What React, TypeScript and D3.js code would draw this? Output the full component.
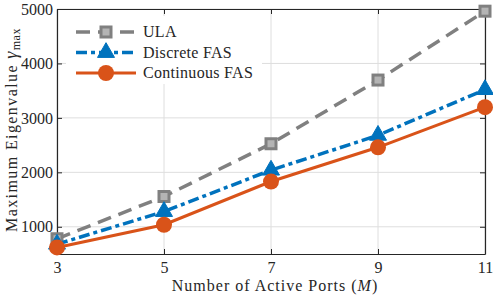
import React, { useEffect, useRef } from 'react';
import * as d3 from 'd3';

// number of active ports
var ports = [3, 5, 7, 9, 11];
var ulaValues = [780, 1556, 2525, 3695, 4960];
var discreteValues = [680, 1280, 2040, 2680, 3520];
var continuousValues = [620, 1037, 1831, 2460, 3196];
var yTicks = [1000, 2000, 3000, 4000, 5000];

var FONT = '"Liberation Serif", "DejaVu Serif", serif';

export default function App() {
    const ref = useRef<SVGSVGElement>(null);

    useEffect(() => {
        var width = 493, height = 297;
        var margin = { top: 9, right: 8, bottom: 43, left: 57 };
        var svg = d3.select(ref.current);
        svg.selectAll('*').remove();

        var x = d3.scaleLinear().domain([3, 11]).range([margin.left, width - margin.right]);
        var y = d3.scaleLinear().domain([500, 5000]).range([height - margin.bottom, margin.top]);
        var x0 = margin.left, x1 = width - margin.right;
        var y0 = height - margin.bottom, y1 = margin.top;

        // grid
        var grid = svg.append('g').attr('stroke', '#dedede').attr('stroke-width', 1);
        ports.forEach(function (p) {
            grid.append('line').attr('x1', x(p)).attr('x2', x(p)).attr('y1', y0).attr('y2', y1);
        });
        yTicks.forEach(function (t) {
            grid.append('line').attr('x1', x0).attr('x2', x1).attr('y1', y(t)).attr('y2', y(t));
        });

        // axes
        var ax = svg.append('g').attr('transform', 'translate(0,' + y0 + ')')
            .call(d3.axisBottom(x).tickValues(ports).tickSizeInner(-5).tickSizeOuter(0).tickPadding(8));
        var ay = svg.append('g').attr('transform', 'translate(' + x0 + ',0)')
            .call(d3.axisLeft(y).tickValues(yTicks).tickSizeInner(-5).tickSizeOuter(0).tickPadding(4).tickFormat(d3.format('d')));
        var at = svg.append('g').attr('transform', 'translate(0,' + y1 + ')')
            .call(d3.axisTop(x).tickValues(ports).tickSizeInner(-5).tickSizeOuter(0).tickFormat(function () { return ''; }));
        var ar = svg.append('g').attr('transform', 'translate(' + x1 + ',0)')
            .call(d3.axisRight(y).tickValues(yTicks).tickSizeInner(-5).tickSizeOuter(0).tickFormat(function () { return ''; }));
        [ax, ay, at, ar].forEach(function (a) {
            a.selectAll('path').attr('stroke', '#262626').attr('stroke-width', 1.2);
            a.selectAll('line').attr('stroke', '#262626');
            a.selectAll('text').attr('font-family', FONT).attr('font-size', 16).attr('fill', '#262626');
        });

        var series = [
            { name: 'ULA', values: ulaValues, color: '#808080', dash: '14,8', width: 3.5, marker: 'square' },
            { name: 'Discrete FAS', values: discreteValues, color: '#0072BD', dash: '11,4,4,4', width: 3.5, marker: 'triangle' },
            { name: 'Continuous FAS', values: continuousValues, color: '#D95319', dash: null, width: 3, marker: 'circle' }
        ];

        function drawMarker(g: any, type: string, cx: number, cy: number, color: string) {
            if (type === 'square') {
                g.append('rect').attr('x', cx - 5).attr('y', cy - 5).attr('width', 10).attr('height', 10)
                    .attr('fill', '#b4b4b4').attr('stroke', color).attr('stroke-width', 3);
            } else if (type === 'triangle') {
                var s = 17;
                var h = s * Math.sqrt(3) / 2;
                g.append('path')
                    .attr('d', 'M' + cx + ',' + (cy - h * 2 / 3) + 'L' + (cx + s / 2) + ',' + (cy + h / 3) + 'L' + (cx - s / 2) + ',' + (cy + h / 3) + 'Z')
                    .attr('fill', color).attr('stroke', color).attr('stroke-width', 1);
            } else {
                g.append('circle').attr('cx', cx).attr('cy', cy).attr('r', 8).attr('fill', color);
            }
        }

        var line = d3.line<number>()
            .x(function (d, i) { return x(ports[i]); })
            .y(function (d) { return y(d); });

        series.forEach(function (s) {
            svg.append('path')
                .datum(s.values)
                .attr('fill', 'none')
                .attr('stroke', s.color)
                .attr('stroke-width', s.width)
                .attr('stroke-dasharray', s.dash)
                .attr('d', line);
            var mg = svg.append('g');
            s.values.forEach(function (v, i) { drawMarker(mg, s.marker, x(ports[i]), y(v), s.color); });
        });

        // legend
        var lg = svg.append('g');
        lg.append('rect').attr('x', 66).attr('y', 16).attr('width', 196).attr('height', 68).attr('fill', 'white');
        series.forEach(function (s, i) {
            var ly = 32 + i * 20.5;
            lg.append('line').attr('x1', 76).attr('x2', 136).attr('y1', ly).attr('y2', ly)
                .attr('stroke', s.color).attr('stroke-width', s.width).attr('stroke-dasharray', s.dash);
            drawMarker(lg, s.marker, 106, ly, s.color);
            lg.append('text').attr('x', 143).attr('y', ly + 5).attr('font-family', FONT).attr('font-size', 16)
                .attr('letter-spacing', 0.3).attr('fill', '#262626').text(s.name);
        });

        // axis labels
        var xl = svg.append('text').attr('x', (x0 + x1) / 2 + 4).attr('y', 291).attr('text-anchor', 'middle')
            .attr('font-family', FONT).attr('font-size', 16).attr('letter-spacing', 1).attr('fill', '#262626');
        xl.append('tspan').text('Number of Active Ports (');
        xl.append('tspan').attr('font-style', 'italic').text('M');
        xl.append('tspan').text(')');

        var yl = svg.append('text').attr('transform', 'translate(17,' + 130 + ') rotate(-90)')
            .attr('text-anchor', 'middle').attr('font-family', FONT).attr('font-size', 16).attr('letter-spacing', 1.4).attr('fill', '#262626');
        yl.append('tspan').text('Maximum Eigenvalue ');
        yl.append('tspan').attr('font-style', 'italic').attr('font-size', 18).text('γ');
        yl.append('tspan').attr('font-size', 12).attr('dy', 3).attr('letter-spacing', 0.5).text('max');
    }, []);

    return (
        <svg ref={ref} width={493} height={297} style={{ position: 'absolute', left: 0, top: 0, background: 'white' }}></svg>
    );
}
